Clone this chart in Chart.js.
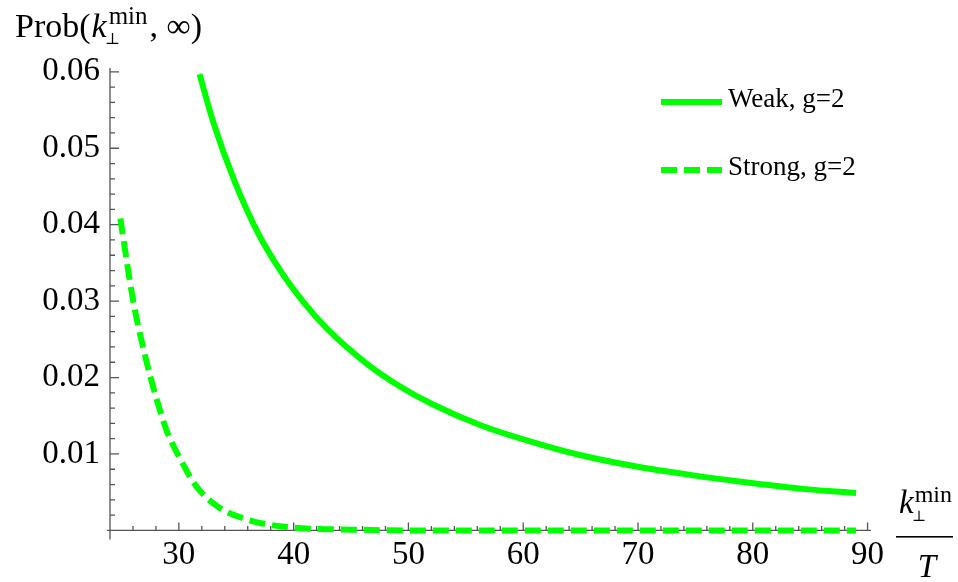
<!DOCTYPE html>
<html>
<head>
<meta charset="utf-8">
<script src="https://cdn.jsdelivr.net/npm/chart.js@4.4.0/dist/chart.umd.min.js"></script>
<style>
  html, body { margin: 0; padding: 0; background: #fff; }
  #wrap { width: 958px; height: 582px; }
</style>
</head>
<body>
<div id="wrap"><canvas id="chart"></canvas></div>
<script>
// values
const weakX = [31.8, 33, 34.9, 36.9, 38.8, 41, 42.9, 46.3, 49.2, 52.1, 56.4, 61.4, 65.7, 70.1, 74.4, 78.8, 84.6, 89];
const weakY = [0.0597, 0.0534, 0.0455, 0.0389, 0.0341, 0.0296, 0.0264, 0.0219, 0.0189, 0.0165,
               0.0137, 0.0113, 0.0096, 0.0083, 0.0073, 0.0064, 0.0054, 0.0049];
const strongX = [24.9, 26, 27, 28, 29, 30, 31.5, 33.5, 36, 39, 42, 45, 50, 60, 70, 80, 89];
const strongY = [0.0408, 0.0302, 0.0232, 0.0175, 0.0128, 0.0097, 0.0058, 0.0030, 0.0014,
                 0.0005, 0.0002, 0.0001, 0, 0, 0, 0, 0];
const seriesNames = ['Weak, g=2', 'Strong, g=2'];
const xTicks = [30, 40, 50, 60, 70, 80, 90];
const yTicks = [0.01, 0.02, 0.03, 0.04, 0.05, 0.06];

const GREEN = '#00ff00';
const AXIS = '#555555';
const SERIF = '"Liberation Serif", "DejaVu Serif", serif';

const toPts = (xs, ys) => xs.map((v, i) => ({ x: v, y: ys[i] }));

// Mathematica-style axes: lines through the origin, ticks pointing inward
const axesPlugin = {
  id: 'mmaAxes',
  beforeDatasetsDraw(chart) {
    const { ctx, scales: { x, y } } = chart;
    const ox = x.left, oy = y.getPixelForValue(0);
    ctx.save();
    ctx.strokeStyle = AXIS;
    ctx.lineWidth = 1.3;
    ctx.beginPath();
    ctx.moveTo(ox - 3, oy); ctx.lineTo(x.right, oy);
    ctx.moveTo(ox, oy + 9); ctx.lineTo(ox, y.top);
    for (let v = 26; v <= 90; v += 2) {
      const px = x.getPixelForValue(v);
      const len = v % 10 === 0 ? 8 : 4.5;
      ctx.moveTo(px, oy); ctx.lineTo(px, oy - len);
    }
    for (let k = 1; k <= 30; k++) {
      const py = y.getPixelForValue(k * 0.002);
      const len = k % 5 === 0 ? 9 : 5;
      ctx.moveTo(ox, py); ctx.lineTo(ox + len, py);
    }
    ctx.stroke();
    ctx.restore();
  },
  afterDraw(chart) {
    const { ctx } = chart;
    ctx.save();
    ctx.fillStyle = '#000';
    ctx.textBaseline = 'alphabetic';
    const run = (txt, x, y, size, italic) => {
      ctx.font = (italic ? 'italic ' : '') + size + 'px ' + SERIF;
      ctx.fillText(txt, x, y);
      return x + ctx.measureText(txt).width;
    };

    // y axis title: Prob(k⊥^min, ∞)
    let cx = run('Prob(', 15, 37, 34, false);
    cx = run('k', cx + 1, 37, 34, true);
    const supEnd = run('min', cx + 2, 24, 25, false);
    run('\u22a5', cx - 2, 44, 16, false);
    run(', \u221e)', supEnd + 2, 37, 34, false);

    // x axis title: k⊥^min / T
    cx = run('k', 899, 513, 33, true);
    run('min', cx + 1, 502, 24, false);
    run('\u22a5', cx - 2, 521, 15, false);
    ctx.fillRect(896, 536, 57, 1.6);
    ctx.textAlign = 'center';
    run('T', 927, 577, 33, true);
    ctx.textAlign = 'left';

    // legend
    chart.data.datasets.forEach((ds, i) => {
      const ly = 102 + i * 68;
      ctx.strokeStyle = ds.borderColor;
      ctx.lineWidth = ds.borderWidth;
      ctx.setLineDash(ds.borderDash || []);
      ctx.beginPath();
      ctx.moveTo(661, ly); ctx.lineTo(722, ly);
      ctx.stroke();
      ctx.setLineDash([]);
      ctx.fillStyle = '#000';
      run(ds.label, 728, ly + 5, 27, false);
    });
    ctx.restore();
  }
};

new Chart(document.getElementById('chart'), {
  type: 'line',
  data: {
    datasets: [
      {
        label: seriesNames[0],
        data: toPts(weakX, weakY),
        borderColor: GREEN,
        borderWidth: 6,
        pointRadius: 0,
        cubicInterpolationMode: 'monotone',
        clip: false,
      },
      {
        label: seriesNames[1],
        data: toPts(strongX, strongY),
        borderColor: GREEN,
        borderWidth: 6,
        borderDash: [16, 7],
        borderCapStyle: 'butt',
        pointRadius: 0,
        cubicInterpolationMode: 'monotone',
        clip: false,
      },
    ],
  },
  options: {
    responsive: true, maintainAspectRatio: false,
    animation: false,
    layout: { padding: { top: 68, right: 87, left: 0, bottom: 0 } },
    plugins: { legend: { display: false }, tooltip: { enabled: false } },
    scales: {
      x: {
        type: 'linear', min: 24, max: 90.3,
        grid: { display: false, drawTicks: false }, border: { display: false },
        afterBuildTicks: s => { s.ticks = xTicks.map(v => ({ value: v })); },
        afterFit: s => { s.height = 51.6; },
        ticks: { color: '#000', padding: 5, maxRotation: 0, font: { family: SERIF, size: 33 }, callback: v => String(v) },
      },
      y: {
        type: 'linear', min: 0, max: 0.0605,
        grid: { display: false, drawTicks: false }, border: { display: false },
        afterBuildTicks: s => { s.ticks = yTicks.map(v => ({ value: v })); },
        afterFit: s => { s.width = 110; },
        ticks: { color: '#000', padding: 10, font: { family: SERIF, size: 33 }, callback: v => v.toFixed(2) },
      },
    },
  },
  plugins: [axesPlugin],
});
</script>
</body>
</html>
